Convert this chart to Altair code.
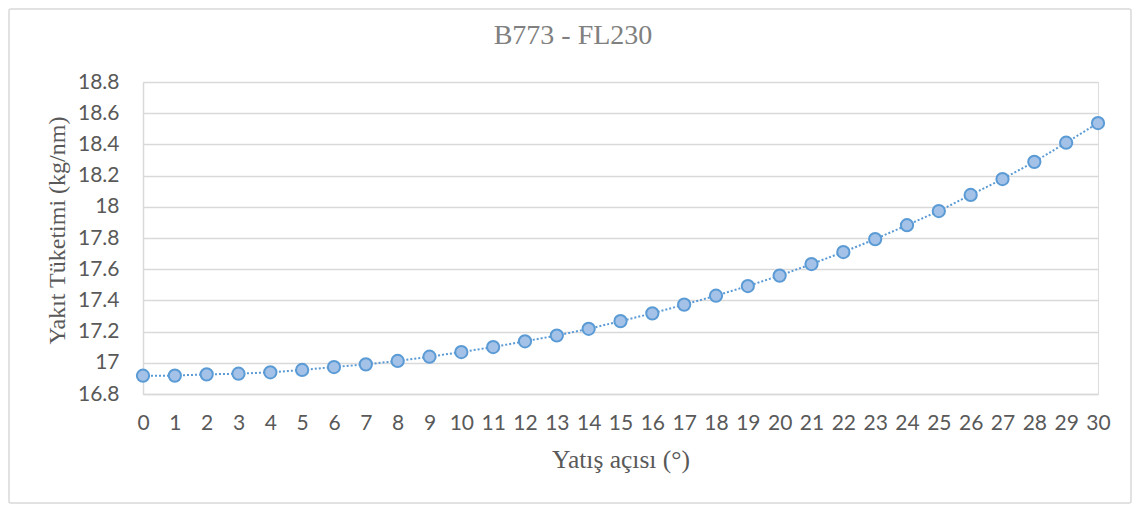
import altair as alt
import pandas as pd

angles = list(range(0, 31))
fuel = [16.917, 16.918, 16.926, 16.930, 16.939, 16.954, 16.973, 16.990, 17.012, 17.039,
        17.069, 17.101, 17.138, 17.175, 17.218, 17.267, 17.317, 17.373, 17.430, 17.492,
        17.559, 17.633, 17.710, 17.793, 17.882, 17.973, 18.076, 18.178, 18.288, 18.411,
        18.537]
y_ticks = [16.8, 17.0, 17.2, 17.4, 17.6, 17.8, 18.0, 18.2, 18.4, 18.6, 18.8]
title_text = ["B773 - FL230"]

df = pd.DataFrame({"angle": angles, "fuel": fuel})

SERIF = "Liberation Serif"
SANS = "Lato"
TXT = "#595959"
BLUE = "#5b9bd5"

x_enc = alt.X("angle:Q", scale=alt.Scale(domain=[0, 30], nice=False, zero=False),
              axis=alt.Axis(values=angles, title="Yatış açısı (°)", grid=False,
                            ticks=False, labelPadding=18, titlePadding=14,
                            domainColor="#d9d9d9", domainWidth=1.5,
                            labelFont=SANS, labelFontSize=21, labelColor=TXT,
                            titleFont=SERIF, titleFontSize=25.5, titleFontWeight="normal",
                            titleColor=TXT, labelFlush=False))
y_enc = alt.Y("fuel:Q", scale=alt.Scale(domain=[16.8, 18.8], nice=False, zero=False),
              axis=alt.Axis(values=y_ticks, title="Yakıt Tüketimi (kg/nm)",
                            labelExpr="format(datum.value, '.1~f')",
                            ticks=False, labelPadding=24, titlePadding=8, titleY=148,
                            gridColor="#d9d9d9", gridWidth=1.5,
                            domainColor="#d9d9d9", domainWidth=1.5,
                            labelFont=SANS, labelFontSize=21, labelColor=TXT,
                            titleFont=SERIF, titleFontSize=24, titleFontWeight="normal",
                            titleColor=TXT))

line = alt.Chart(df).mark_line(color=BLUE, strokeWidth=2, strokeDash=[2, 2]).encode(x=x_enc, y=y_enc)
points = alt.Chart(df).mark_point(shape="circle", filled=True, size=150, fill="#a4c2e8",
                                  stroke=BLUE, strokeWidth=2, opacity=1).encode(x=x_enc, y=y_enc)

tdf = pd.DataFrame({"t": title_text})
title = alt.Chart(tdf).mark_text(font=SERIF, fontSize=28, color="#808080", align="center",
                                 baseline="alphabetic").encode(
    text="t:N", x=alt.value(430), y=alt.value(-38))

border = alt.Chart(tdf).mark_rect(fillOpacity=0, stroke="#d9d9d9", strokeWidth=1.5,
                                  cornerRadius=2).encode(
    x=alt.value(-134), x2=alt.value(988), y=alt.value(-73), y2=alt.value(421))

chart = alt.layer(border, line, points, title).properties(
    width=955, height=312,
    autosize=alt.AutoSizeParams(type="none"),
    padding={"left": 135, "top": 74, "right": 34, "bottom": 111},
).configure_view(stroke=None).configure(background="white")

chart.save("out.html", embed_options={"renderer": "svg", "actions": False})
